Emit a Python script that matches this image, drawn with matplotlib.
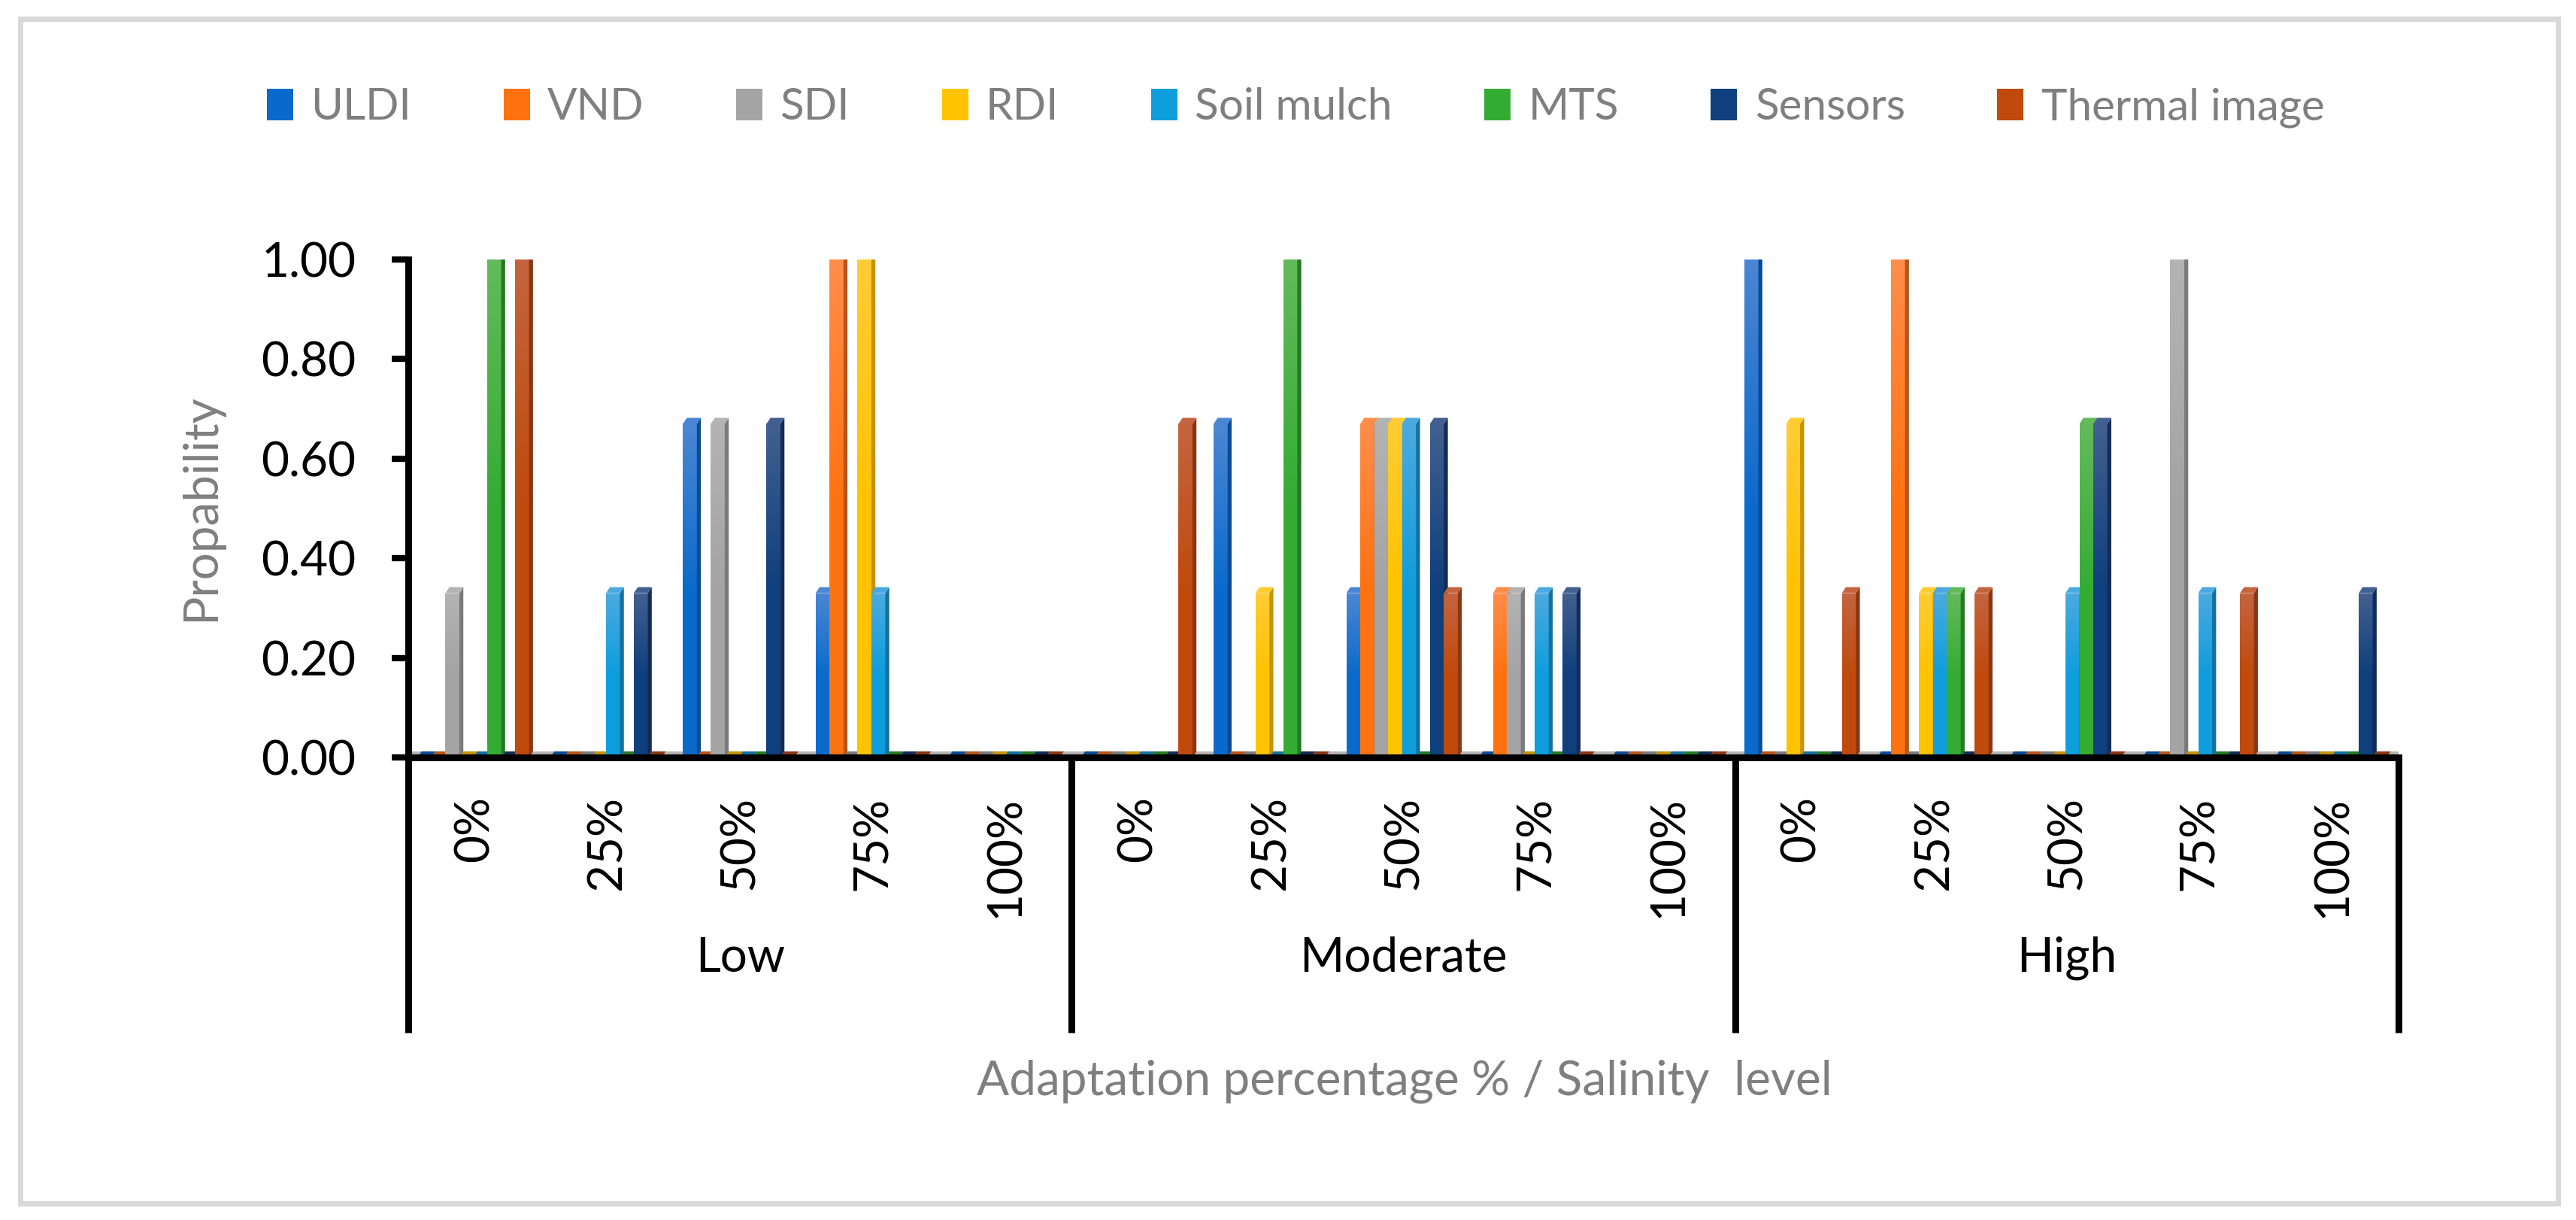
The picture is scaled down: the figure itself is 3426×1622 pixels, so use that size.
import numpy as np
import matplotlib
matplotlib.use("Agg")
import matplotlib.pyplot as plt
from matplotlib.patches import Rectangle, Patch
from matplotlib.colors import LinearSegmentedColormap

plt.rcParams['font.family'] = ['Lato', 'DejaVu Sans']

# data
groups = ["Low", "Moderate", "High"]
levels = ["0%", "25%", "50%", "75%", "100%"]
series = ["ULDI", "VND", "SDI", "RDI", "Soil mulch", "MTS", "Sensors", "Thermal image"]

uldi     = [0, 0, 0.67, 0.33, 0,   0, 0.67, 0.33, 0, 0,      1, 0, 0, 0, 0]
vnd      = [0, 0, 0, 1, 0,         0, 0, 0.67, 0.33, 0,      0, 1, 0, 0, 0]
sdi      = [0.33, 0, 0.67, 0, 0,   0, 0, 0.67, 0.33, 0,      0, 0, 0, 1, 0]
rdi      = [0, 0, 0, 1, 0,         0, 0.33, 0.67, 0, 0,      0.67, 0.33, 0, 0, 0]
mulch    = [0, 0.33, 0, 0.33, 0,   0, 0, 0.67, 0.33, 0,      0, 0.33, 0.33, 0.33, 0]
mts      = [1, 0, 0, 0, 0,         0, 1, 0, 0, 0,            0, 0.33, 0.67, 0, 0]
sensors  = [0, 0.33, 0.67, 0, 0,   0, 0, 0.67, 0.33, 0,      0, 0, 0.67, 0, 0.33]
thermal  = [1, 0, 0, 0, 0,         0.67, 0, 0.33, 0, 0,      0.33, 0.33, 0, 0.33, 0]

values = [uldi, vnd, sdi, rdi, mulch, mts, sensors, thermal]
front = ["#0a6acb", "#ff7210", "#a4a4a4", "#ffc300", "#0e9ddd", "#34ac34", "#0f3f7c", "#bf4a0c"]
light = ["#4a86d4", "#ff8d4a", "#b3b3b3", "#ffcc33", "#4aaae0", "#62ba5a", "#415f90", "#c4643e"]
side = ["#0b4a94", "#b8541a", "#7a7a7a", "#c69200", "#15709e", "#237a23", "#142c55", "#8a3612"]

W, H = 3426, 1622
fig = plt.figure(figsize=(W / 100, H / 100), dpi=100)
ax = fig.add_axes([543 / W, 1 - 1007 / H, (3190 - 543) / W, (1007 - 345) / H])

# outer frame
fig.patches.append(Rectangle((27 / W, 1 - 1600 / H), (3402 - 27) / W, (1600 - 25) / H,
                             transform=fig.transFigure, fill=False, ec="#d9d9d9", lw=5))

ncat = len(groups) * len(levels)
w = 0.105
d = 0.03
e = 0.012
start = (1 - len(series) * w) / 2 - 0.01

# floor
ax.fill([0, ncat, ncat + d, d], [0, 0, e, e], color="#b4b4b4", zorder=1, lw=0)

grad = np.linspace(1, 0, 64).reshape(-1, 1)
for k, vals in enumerate(values):
    xs = np.arange(ncat) + start + k * w
    z = 3 + k
    cmap = LinearSegmentedColormap.from_list(
        "g%d" % k, [front[k], front[k], light[k]])
    bars = ax.bar(xs, vals, width=w, align="edge", color=front[k], lw=0, zorder=z)
    for x, h, b in zip(xs, vals, bars):
        if h > 0:
            im = ax.imshow(grad, cmap=cmap, aspect="auto", extent=(x, x + w, 0, h),
                           zorder=z, interpolation="bilinear", vmin=0, vmax=1)
            im.set_clip_path(b)
        ax.fill([x + w, x + w, x + w + d, x + w + d], [0, h, h + e, e],
                color=side[k], lw=0, zorder=z)
        ax.fill([x, x + w, x + w + d, x + d], [h, h, h + e, h + e],
                color=side[k] if h == 0 else light[k], lw=0, zorder=z)

ax.set_xlim(0, ncat)
ax.set_ylim(0, 1.0)
ax.set_yticks(np.arange(0, 1.01, 0.2))
ax.set_yticklabels([f"{v:.2f}" for v in np.arange(0, 1.01, 0.2)])
ax.set_xticks(np.arange(ncat) + 0.5)
ax.set_xticklabels(levels * len(groups), rotation=90)
ax.tick_params(axis="y", length=16, width=6, pad=34, labelsize=46, direction="out")
ax.tick_params(axis="x", length=0, pad=37, labelsize=46)

for s in ["top", "right"]:
    ax.spines[s].set_visible(False)
for s in ["left", "bottom"]:
    ax.spines[s].set_linewidth(6.5)
    ax.spines[s].set_zorder(20)

# group separators and labels
trans = ax.get_xaxis_transform()
for gx in range(0, ncat + 1, len(levels)):
    ax.plot([gx, gx], [0, -0.553], transform=trans, color="black", lw=6.5,
            clip_on=False, solid_capstyle="butt", zorder=20)
for i, g in enumerate(groups):
    ax.text(i * len(levels) + len(levels) / 2, -0.403, g, transform=trans,
            ha="center", va="center", fontsize=46)

fig.text(267 / W, 1 - 675 / H, "Propability", rotation=90, ha="center", va="center",
         fontsize=46, color="#7f7f7f")
fig.text(1868 / W, 1 - 1438 / H, "Adaptation percentage % / Salinity  level",
         ha="center", va="center", fontsize=46, color="#7f7f7f")

handles = [Patch(facecolor=c, edgecolor="none") for c in front]
fig.legend(handles, series, loc="center", bbox_to_anchor=(0.503, 1 - 143 / H), ncol=8,
           frameon=False, fontsize=42, labelcolor="#7f7f7f", handlelength=0.6,
           handleheight=0.75, handletextpad=0.4, columnspacing=2.1)

fig.savefig("out.png", dpi=100)
